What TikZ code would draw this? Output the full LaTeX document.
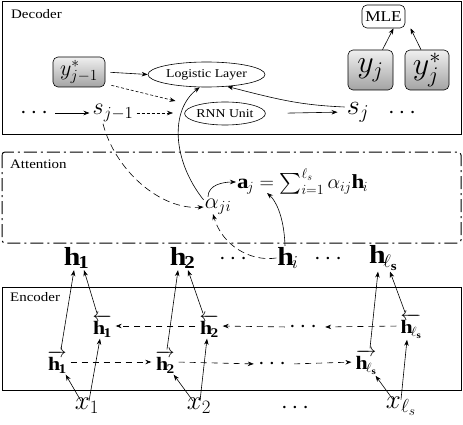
\RequirePackage{fix-cm}
\documentclass[tikz,border=0pt]{standalone}
\usepackage{amsmath}
\usepackage{fontspec}
\setmainfont{Liberation Serif}[FakeStretch=1.15]
\usetikzlibrary{shapes.geometric,arrows.meta,calc}
\newcommand{\myfs}[1]{\fontsize{#1}{#1}\selectfont}
\tikzset{
  arr/.style={-{Stealth[length=6pt,width=4.5pt]}, line width=0.6pt},
  darr/.style={arr, dash pattern=on 3pt off 2pt},
  edarr/.style={arr, dash pattern=on 6pt off 5pt},
  ldarr/.style={arr, dash pattern=on 7pt off 4pt},
  panel/.style={draw, line width=1pt},
  shadebox/.style={draw, rounded corners=5pt, top color=gray!12, bottom color=gray!72, inner sep=0pt, line width=0.6pt},
  oval/.style={draw, ellipse, inner sep=0pt, line width=0.6pt, font=\myfs{12}},
  lbl/.style={anchor=north west, inner sep=0pt, font=\myfs{13}},
  mt/.style={inner sep=1pt},
}
\begin{document}
\begin{tikzpicture}[x=1pt,y=-1pt]
\useasboundingbox (0,0) rectangle (463,425);
% ---------------- Decoder ----------------
\draw[panel] (2,2) rectangle (461,135);
\node[lbl] (dec) at (11,9) {Decoder};
\node[draw, rounded corners=5pt, minimum width=43pt, minimum height=23pt, inner sep=0pt, font=\myfs{15}, line width=0.6pt] (mle) at (383.5,16.5) {MLE};
\node[shadebox, minimum width=45pt, minimum height=40pt, font=\myfs{32}] (yj) at (370.5,70) {$y_j$};
\node[shadebox, minimum width=44pt, minimum height=40pt, font=\myfs{32}] (yjs) at (427,70) {$y_j^*$};
\node[shadebox, minimum width=52pt, minimum height=30pt, font=\myfs{22}] (yprev) at (79,72) {$y^*_{j-1}$};
\node[oval, minimum width=117pt, minimum height=25pt] (ll) at (206.5,74.5) {Logistic Layer};
\node[oval, minimum width=80pt, minimum height=23pt] (rnn) at (225,113.5) {RNN Unit};
\node[mt, font=\myfs{24}] (dl) at (36,113) {$\cdots$};
\node[mt, font=\myfs{24}] (sprev) at (113,113) {$s_{j-1}$};
\node[mt, font=\myfs{28}] (sj) at (358,112) {$s_j$};
\node[mt, font=\myfs{24}] (dr) at (404,113) {$\cdots$};
\coordinate (c1) at (173,113);
\coordinate (c2) at (175.5,101);
\draw[arr] ($(yj.north)+(12,0)$) -- ($(mle.south)+(10,0)$);
\draw[arr] ($(yjs.north)+(-6,0)$) -- ($(mle.south)+(27,0)$);
\draw[arr, shorten <=5pt] (yprev.east) -- (ll.west);
\draw[arr, shorten <=2pt, shorten >=2pt] (dl.east) -- (sprev.west);
\draw[darr, shorten <=2pt] (sprev.east) -- (c1);
\draw[darr] ($(yprev.south east)+(6,-2)$) -- (c2);
\draw[arr, shorten <=22pt, shorten >=8pt] (rnn.east) -- (sj.west);
\draw[arr] ($(sj.west)+(-1,-5)$) .. controls (300,105) and (280,100) .. (ll.-30);
% ---------------- Attention ----------------
\draw[line width=1pt, rounded corners=3pt, dash pattern=on 13pt off 4pt on 2pt off 4pt] (2,152) rectangle (461,243);
\node[lbl] (att) at (10,160) {Attention};
\node[mt, font=\myfs{22}] (alpha) at (218,207) {$\alpha_{ji}$};
\node[mt, font=\myfs{20}, anchor=west] (eq) at (236,182) {$\mathbf{a}_j=\sum_{i=1}^{\ell_s}\alpha_{ij}\mathbf{h}_i$};
\coordinate (ajb) at (267,193);
\draw[arr] ($(alpha.north west)+(0,2)$) .. controls (172,160) and (170,110) .. (ll.-118);
\draw[arr] ($(alpha.north)+(-10,-1)$) to[out=90,in=180] (eq.west);
\draw[ldarr] ($(sprev.south)+(-10,1)$) .. controls (115,170) and (160,210) .. (alpha.west);
% ---------------- h row ----------------
\node[mt, font=\myfs{26}] (h1) at (76,258) {$\mathbf{h}_{\mathbf{1}}$};
\node[mt, font=\myfs{26}] (h2) at (182,258) {$\mathbf{h}_{\mathbf{2}}$};
\node[mt, font=\myfs{24}] (hd1) at (235,259) {$\cdots$};
\node[mt, font=\myfs{26}] (hi) at (288,258) {$\mathbf{h}_i$};
\node[mt, font=\myfs{24}] (hd2) at (330,259) {$\cdots$};
\node[mt, font=\myfs{26}] (hls) at (383,258) {$\mathbf{h}_{\ell_{\mathbf{s}}}$};
\draw[arr] ($(hi.north)+(-3,0)$) .. controls (284,215) and (275,200) .. (ajb);
\draw[ldarr] (hi.west) .. controls (250,262) and (222,245) .. ($(alpha.south)+(-5,-2)$);
% ---------------- Encoder ----------------
\draw[panel] (2,287) rectangle (461,390);
\node[lbl] (enc) at (10,292) {Encoder};
\node[mt, font=\myfs{19}] (h1b) at (102,326) {$\overleftarrow{\mathbf{h}_{\mathbf{1}}}$};
\node[mt, font=\myfs{19}] (h2b) at (209,326) {$\overleftarrow{\mathbf{h}_{\mathbf{2}}}$};
\node[mt, font=\myfs{24}] (bd) at (305,327) {$\cdots$};
\node[mt, font=\myfs{19}] (hlsb) at (411,326) {$\overleftarrow{\mathbf{h}_{\ell_{\mathbf{s}}}}$};
\node[mt, font=\myfs{19}] (h1f) at (57,362) {$\overrightarrow{\mathbf{h}_{\mathbf{1}}}$};
\node[mt, font=\myfs{19}] (h2f) at (165,362) {$\overrightarrow{\mathbf{h}_{\mathbf{2}}}$};
\node[mt, font=\myfs{24}] (fd) at (274,364) {$\cdots$};
\node[mt, font=\myfs{19}] (hlsf) at (366,362) {$\overrightarrow{\mathbf{h}_{\ell_{\mathbf{s}}}}$};
\node[mt, font=\myfs{27}] (x1) at (87,406) {$x_1$};
\node[mt, font=\myfs{27}] (x2) at (199,406) {$x_2$};
\node[mt, font=\myfs{24}] (xd) at (297,408) {$\cdots$};
\node[mt, font=\myfs{27}] (xls) at (401,406) {$x_{\ell_s}$};
% forward / backward chains
\draw[edarr, shorten <=3pt, shorten >=3pt] (h1f.east) -- (h2f.west);
\draw[edarr, shorten <=3pt, shorten >=3pt] (h2f.east) -- (fd.west);
\draw[edarr, shorten <=3pt, shorten >=3pt] (fd.east) -- (hlsf.west);
\draw[edarr, shorten <=3pt, shorten >=3pt] (h2b.west) -- (h1b.east);
\draw[edarr, shorten <=3pt, shorten >=3pt] (bd.west) -- (h2b.east);
\draw[edarr, shorten <=3pt, shorten >=3pt] (hlsb.west) -- (bd.east);
% x -> h
\draw[arr] ($(x1.north)+(-6,4)$) -- ($(h1f.south east)+(-2,0)$);
\draw[arr] ($(x1.north)+(2,4)$) -- ($(h1b.south)+(-2,0)$);
\draw[arr] ($(x2.north)+(-6,4)$) -- ($(h2f.south east)+(-2,0)$);
\draw[arr] ($(x2.north)+(1,4)$) -- ($(h2b.south)+(-2,0)$);
\draw[arr] ($(xls.north)+(-8,4)$) -- ($(hlsf.south east)+(-2,0)$);
\draw[arr] ($(xls.north)+(0,4)$) -- ($(hlsb.south)+(-4,0)$);
% h -> h
\draw[arr] ($(h1f.north)+(4,0)$) -- ($(h1.south)+(-2,0)$);
\draw[arr] ($(h1b.north)+(-5,0)$) -- ($(h1.south)+(8,0)$);
\draw[arr] ($(h2f.north)+(2,0)$) -- ($(h2.south)+(-4,0)$);
\draw[arr] ($(h2b.north)+(-6,0)$) -- ($(h2.south)+(6,0)$);
\draw[arr] ($(hlsf.north)+(4,0)$) -- ($(hls.south)+(-5,0)$);
\draw[arr] ($(hlsb.north)+(-6,0)$) -- ($(hls.south)+(7,0)$);
\end{tikzpicture}
\end{document}
